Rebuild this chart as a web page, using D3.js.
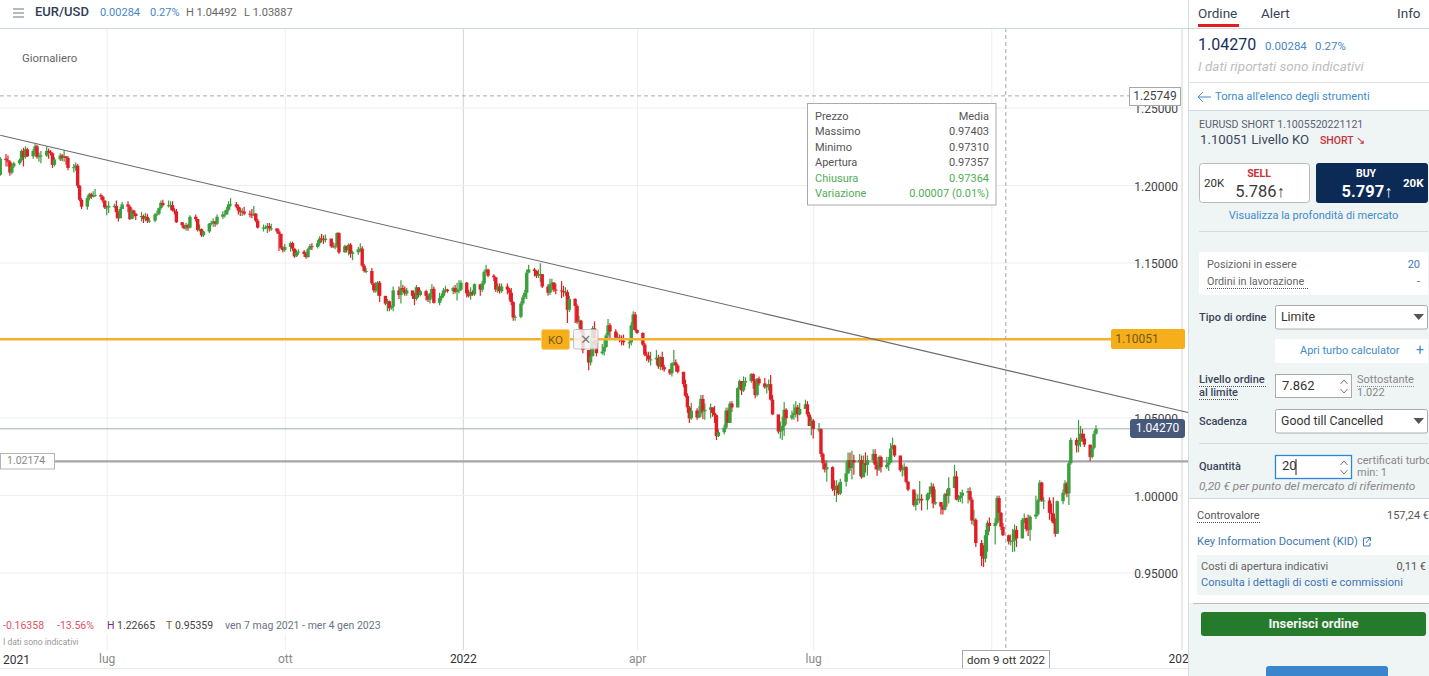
<!DOCTYPE html>
<html><head><meta charset="utf-8">
<script src="https://cdn.jsdelivr.net/npm/d3@7"></script>
<style>
html,body{margin:0;padding:0;background:#fff;overflow:hidden}
svg{display:block;font-family:Roboto,sans-serif}
</style></head><body><div id="chart"></div>
<script>
const firstOpen = 1.2065;
const closes = [1.217,
1.216,1.215,1.208,1.212,1.214,
1.216,1.222,1.218,1.223,1.2185,
1.222,1.225,1.218,1.219,1.219,
1.222,1.2215,1.2205,1.213,1.2165,
1.219,1.2175,1.2185,1.2175,1.211,
1.2115,1.2125,1.1995,1.1905,1.186,
1.1915,1.194,1.1925,1.193,1.1935,
1.1925,1.19,1.1855,1.1855,1.1865,
1.1865,1.1825,1.1785,1.1845,1.1875,
1.186,1.178,1.1835,1.1815,1.18,
1.18,1.178,1.1795,1.177,1.177,
1.181,1.1815,1.185,1.1885,1.187,
1.187,1.187,1.1835,1.183,1.176,
1.174,1.172,1.174,1.1725,1.1795,
1.178,1.171,1.1715,1.1675,1.17,
1.175,1.1755,1.1765,1.175,1.1795,
1.181,1.181,1.184,1.1875,1.1875,
1.186,1.1835,1.1825,1.183,1.1815,
1.181,1.1805,1.1815,1.177,1.1725,
1.1725,1.1725,1.1735,1.172,1.172,
1.17,1.1685,1.1595,1.158,1.16,
1.1625,1.159,1.154,1.1565,1.157,
1.1555,1.1535,1.1585,1.1605,1.16,
1.1625,1.1655,1.165,1.1645,1.1655,
1.1605,1.16,1.1605,1.169,1.1565,
1.1605,1.158,1.1615,1.1555,1.1565,
1.1585,1.159,1.148,1.1445,1.1445,
1.1365,1.132,1.132,1.137,1.1285,
1.1235,1.125,1.1205,1.1215,1.132,
1.129,1.1335,1.1325,1.13,1.132,
1.1285,1.1265,1.134,1.129,1.1315,
1.1285,1.126,1.13,1.133,1.124,
1.127,1.1285,1.132,1.1325,1.1315,
1.1335,1.131,1.1325,1.1325,1.137,
1.13,1.1285,1.131,1.1295,1.136,
1.1325,1.1365,1.144,1.1455,1.1415,
1.1405,1.1325,1.1345,1.1315,1.1345,
1.1325,1.1305,1.1245,1.1145,1.115,
1.1235,1.1275,1.1305,1.1435,1.1455,
1.1445,1.1415,1.1425,1.1425,1.1345,
1.1305,1.136,1.137,1.1325,1.132,
1.1315,1.131,1.131,1.1195,1.1265,
1.122,1.1115,1.1125,1.1065,1.0935,
1.0855,1.0895,1.1075,1.098,1.0915,
1.0925,1.0955,1.103,1.1095,1.1055,
1.1015,1.1015,1.1005,1.0995,1.0985,
1.0985,1.1095,1.1165,1.1065,1.1045,
1.097,1.0905,1.09,1.0875,1.0875,
1.0885,1.083,1.089,1.0825,1.081,
1.0785,1.085,1.0855,1.0835,1.0795,
1.0715,1.064,1.0565,1.0495,1.0545,
1.05,1.0525,1.062,1.054,1.055,
1.0565,1.053,1.0515,1.038,1.0405,
1.0435,1.0545,1.0465,1.059,1.0565,
1.069,1.0735,1.0675,1.0725,1.0735,
1.078,1.0735,1.0645,1.075,1.072,
1.0695,1.0705,1.0715,1.0615,1.052,
1.041,1.0415,1.0445,1.055,1.0495,
1.0515,1.053,1.0565,1.052,1.0555,
1.0585,1.052,1.0445,1.048,1.0425,
1.0425,1.0265,1.0205,1.0165,1.018,
1.004,1.0035,1.006,1.001,1.0085,
1.014,1.0225,1.0175,1.0225,1.021,
1.0225,1.0115,1.0205,1.0195,1.0225,
1.0265,1.0195,1.0165,1.0245,1.018,
1.0195,1.021,1.03,1.032,1.0255,
1.016,1.017,1.018,1.0085,1.0035,
.9935,.9965,.9975,.9975,.9965,
1.0005,1.0015,1.0055,.9945,.9955,
.9925,.9905,1.0005,.9995,1.0045,
1.012,.997,.998,.9995,1.0015,
1.0025,.997,.9835,.984,.969,
.9605,.959,.974,.982,.98,
.982,.998,.9885,.9795,.974,
.97,.9705,.9705,.9775,.972,
.984,.985,.978,.9775,.986,
.9875,.9965,1.008,.9965,.9965,
.9885,.988,.982,.975,.996,
1.0015,1.0075,1.001,1.0205,1.0355,
1.032,1.0345,1.0395,1.0365,1.0325,
1.0245,1.0305,1.0395,1.0427];
const highs = [1.218,
1.22,1.219,1.216,1.214,1.215,
1.217,1.223,1.224,1.225,1.224,
1.223,1.2265,1.226,1.221,1.222,
1.225,1.2235,1.2225,1.221,1.218,
1.2205,1.22,1.2225,1.2185,1.2185,
1.2135,1.2145,1.2135,1.2,1.1915,
1.193,1.195,1.195,1.196,1.1975,
1.1945,1.193,1.19,1.187,1.1895,
1.188,1.19,1.183,1.186,1.189,
1.1895,1.187,1.185,1.184,1.182,
1.1825,1.181,1.182,1.1815,1.1785,
1.182,1.1835,1.1855,1.19,1.1905,
1.19,1.1895,1.1895,1.185,1.1845,
1.176,1.1745,1.1755,1.175,1.1805,
1.181,1.178,1.1745,1.172,1.1705,
1.1755,1.177,1.1785,1.177,1.181,
1.183,1.1835,1.186,1.1895,1.1915,
1.189,1.1875,1.1855,1.185,1.186,
1.1835,1.1845,1.1865,1.182,1.178,
1.1745,1.174,1.1755,1.1755,1.175,
1.172,1.1715,1.1685,1.1605,1.162,
1.1635,1.1635,1.159,1.158,1.1585,
1.158,1.1565,1.1595,1.162,1.1625,
1.1645,1.167,1.1685,1.1675,1.168,
1.1625,1.163,1.1625,1.1695,1.1695,
1.1615,1.161,1.1625,1.1625,1.1575,
1.16,1.1625,1.1605,1.149,1.1465,
1.1465,1.137,1.1375,1.138,1.138,
1.1275,1.1265,1.1255,1.1225,1.1345,
1.1345,1.1385,1.1355,1.1345,1.1335,
1.1315,1.1305,1.1355,1.134,1.1325,
1.1325,1.1295,1.1305,1.136,1.1345,
1.1305,1.13,1.1335,1.135,1.133,
1.1345,1.1355,1.137,1.1385,1.1385,
1.1375,1.1325,1.134,1.132,1.1365,
1.135,1.138,1.145,1.1485,1.146,
1.1425,1.1405,1.1365,1.1365,1.1365,
1.1365,1.1335,1.1335,1.125,1.116,
1.125,1.129,1.1325,1.1455,1.1485,
1.1465,1.145,1.1455,1.1495,1.1425,
1.136,1.1395,1.1395,1.1375,1.1365,
1.138,1.135,1.134,1.1325,1.1285,
1.127,1.123,1.1155,1.113,1.107,
1.0935,1.1015,1.109,1.112,1.1,
1.0975,1.1005,1.1045,1.1135,1.111,
1.107,1.1045,1.1035,1.103,1.1035,
1.1,1.1115,1.1185,1.118,1.107,
1.105,1.098,1.0925,1.0925,1.0925,
1.0935,1.0905,1.0895,1.0925,1.084,
1.0815,1.0855,1.0935,1.0875,1.0845,
1.0795,1.0745,1.0655,1.0575,1.0595,
1.056,1.0575,1.0645,1.0645,1.059,
1.059,1.0565,1.0575,1.052,1.0425,
1.0455,1.0565,1.0565,1.0605,1.0605,
1.0695,1.0745,1.0735,1.0765,1.076,
1.0785,1.0785,1.0745,1.0755,1.0765,
1.0755,1.0715,1.0745,1.0775,1.0645,
1.0515,1.0475,1.0505,1.06,1.056,
1.0545,1.0585,1.0605,1.058,1.0595,
1.0615,1.0605,1.0535,1.0505,1.049,
1.0465,1.043,1.0275,1.0225,1.0225,
1.0185,1.0095,1.0095,1.0075,1.0105,
1.0215,1.0275,1.0275,1.0285,1.026,
1.0265,1.0255,1.0255,1.0275,1.0255,
1.0295,1.0295,1.0215,1.0255,1.0255,
1.0245,1.0245,1.0335,1.037,1.0325,
1.025,1.0195,1.0205,1.0185,1.009,
1.0035,1.0015,1.0005,1.009,1.0005,
1.0015,1.0055,1.008,1.0075,1.0035,
.9955,.9935,1.0015,1.0035,1.0115,
1.0195,1.0155,1,1.002,1.0035,
1.0045,1.005,.9985,.9905,.985,
.971,.9675,.9775,.9835,.9855,
.985,.9995,.9995,.989,.982,
.9745,.9745,.978,.981,.98,
.985,.988,.9855,.9875,.987,
.9995,.9975,1.0095,1.0085,.9985,
.9985,.9945,.9985,.985,.9965,
1.0035,1.0095,1.0085,1.022,1.037,
1.037,1.0485,1.0445,1.0425,1.0395,
1.0325,1.0315,1.0415,1.04492];
const lows = [1.206,
1.212,1.212,1.206,1.207,1.211,
1.213,1.215,1.212,1.217,1.218,
1.217,1.219,1.217,1.215,1.214,
1.218,1.217,1.219,1.211,1.212,
1.2155,1.2155,1.215,1.213,1.2095,
1.208,1.209,1.198,1.1895,1.1845,
1.184,1.19,1.191,1.192,1.1925,
1.1905,1.1885,1.1845,1.1805,1.182,
1.185,1.1785,1.1765,1.183,1.185,
1.1825,1.1775,1.178,1.179,1.1775,
1.1765,1.1755,1.1765,1.1755,1.1755,
1.176,1.18,1.1805,1.184,1.186,
1.1855,1.184,1.183,1.181,1.1755,
1.1725,1.1715,1.1705,1.1705,1.172,
1.1765,1.17,1.17,1.1665,1.1665,
1.169,1.174,1.173,1.173,1.174,
1.178,1.179,1.181,1.183,1.186,
1.185,1.181,1.18,1.18,1.1805,
1.179,1.1785,1.18,1.176,1.172,
1.17,1.1715,1.169,1.17,1.1705,
1.1685,1.1575,1.1585,1.1565,1.157,
1.157,1.1575,1.153,1.1535,1.155,
1.1535,1.1525,1.153,1.158,1.158,
1.159,1.161,1.163,1.162,1.163,
1.1595,1.1595,1.1585,1.1595,1.1555,
1.1565,1.1565,1.1545,1.153,1.1515,
1.155,1.157,1.147,1.1435,1.143,
1.1355,1.1305,1.1305,1.1285,1.1245,
1.1225,1.1185,1.1185,1.1195,1.1185,
1.1265,1.1235,1.131,1.1285,1.1285,
1.1265,1.1225,1.1255,1.1275,1.128,
1.1255,1.1245,1.1235,1.1275,1.1235,
1.1225,1.1255,1.1275,1.1305,1.1305,
1.1295,1.13,1.1255,1.13,1.1315,
1.1275,1.1275,1.126,1.1285,1.1285,
1.1285,1.131,1.1355,1.1435,1.1405,
1.138,1.131,1.1305,1.13,1.1305,
1.1295,1.1255,1.1225,1.1125,1.1125,
1.114,1.1225,1.1265,1.1265,1.143,
1.141,1.14,1.14,1.1375,1.1335,
1.1285,1.129,1.1315,1.131,1.1295,
1.127,1.128,1.1285,1.111,1.118,
1.111,1.1105,1.1075,1.1045,1.0915,
1.0805,1.0835,1.0895,1.097,1.0895,
1.0905,1.09,1.095,1.1015,1.1005,
1.1005,1.1,1.0985,1.0965,1.0965,
1.0945,1.0965,1.1065,1.1055,1.104,
1.096,1.0895,1.0865,1.0855,1.0835,
1.084,1.0815,1.0805,1.0805,1.0795,
1.0775,1.0765,1.0835,1.0795,1.0785,
1.0695,1.063,1.053,1.0465,1.0485,
1.0485,1.0495,1.0505,1.049,1.0485,
1.0495,1.0505,1.0465,1.0355,1.0375,
1.039,1.0425,1.0465,1.0465,1.0535,
1.0565,1.068,1.0645,1.0665,1.07,
1.0725,1.0685,1.0625,1.0635,1.0705,
1.0685,1.0655,1.0675,1.061,1.0515,
1.0395,1.0365,1.0355,1.038,1.0455,
1.0485,1.0485,1.05,1.0475,1.0515,
1.056,1.0505,1.0445,1.0385,1.0365,
1.0405,1.0245,1.0165,1.0145,1.0085,
1.0025,.9995,.9955,1,1,
1.0055,1.0135,1.0155,1.01,1.013,
1.0125,1.0105,1.0115,1.0145,1.0125,
1.0205,1.0165,1.0125,1.0155,1.0145,
1.017,1.0155,1.0205,1.0295,1.0245,
1.015,1.012,1.0125,1.0075,1.0025,
.9925,.99,.9935,.9945,.99,
.9905,.9975,.9985,.9915,.9935,
.9875,.9875,.99,.9925,.9945,
1.0055,.9965,.9955,.9955,.9945,
.9945,.996,.981,.98,.9665,
.954,.9535,.9565,.9635,.9765,
.968,.981,.9835,.9775,.9735,
.968,.9675,.9632,.9635,.9665,
.972,.982,.9765,.9735,.9705,
.9845,.9865,.9955,.9955,.991,
.984,.983,.9815,.973,.975,
.994,1,.9985,.9935,1.0195,
1.0275,1.0275,1.031,1.0345,1.031,
1.022,1.0235,1.0295,1.03887];

const firstDay = "2021-05-07", dayAfterLast = "2022-11-25";
const axisStops = ["2021-05-07","2022-10-01","2022-11-24","2023-01-01","2023-01-04"];
const yTickValues = [0.95,1.0,1.05,1.15,1.2,1.25];
const xTickDates = ["2021-07-01","2021-10-01","2022-01-01","2022-04-01","2022-07-01","2022-10-01","2023-01-01"];
const xTickLabels = ["lug","ott","2022","apr","lug","","2023"];
const trendPrices = [1.2321,1.0532];
const koLevel = 1.10051, lastPrice = 1.0427, hLine = 1.25749, userLine = 1.02174;
const crosshairDay = "2022-10-09";
const tooltipRows = [["Prezzo","Media"],["Massimo","0.97403"],["Minimo","0.97310"],["Apertura","0.97357"],["Chiusura","0.97364"],["Variazione","0.00007 (0.01%)"]];

const W=1429,H=676;
const svg=d3.select("#chart").append("svg").attr("width",W).attr("height",H).attr("viewBox",[0,0,W,H]);
const pd=d=>new Date(d+"T00:00:00Z");
const x=d3.scaleUtc().domain(axisStops.map(pd)).range([0.24,991.3,1096,1181.5,1188]);
const y=d3.scaleLinear().domain([0.95,1.25]).range([572.5,107.5]);
const days=d3.utcDay.range(pd(firstDay),pd(dayAfterLast)).filter(d=>d.getUTCDay()>0&&d.getUTCDay()<6);
const bars=days.map((d,i)=>({d,o:i?closes[i-1]:firstOpen,c:closes[i],h:highs[i],l:lows[i]}));
const GREEN="#3a9f3c",RED="#e01e25";

// axes and grid
const gx=svg.append("g").attr("transform","translate(0,650)").call(
  d3.axisBottom(x).tickValues(xTickDates.map(pd)).tickSize(-622).tickPadding(4).tickFormat((d,i)=>xTickLabels[i]));
gx.select(".domain").remove();
gx.selectAll("line").attr("stroke",(d,i)=>xTickLabels[i]==="2022"||xTickLabels[i]==="2023"?"#d4d4d4":"#eeeeee");
gx.selectAll("text").attr("font-size",12).attr("font-family","Roboto").attr("fill",(d,i)=>/^\d/.test(xTickLabels[i])?"#333":"#8a8a8a");
const gy=svg.append("g").attr("transform","translate(1181,0)").call(
  d3.axisLeft(y).tickValues(yTickValues).tickSize(1181).tickPadding(-1178).tickFormat(d3.format(".5f")));
gy.select(".domain").remove();
gy.selectAll("line").attr("stroke","#eeeeee");
gy.selectAll("text").attr("font-size",12).attr("font-family","Roboto").attr("fill","#444").attr("dy","1.3em").attr("dy",".42em");

function T(t,px,py,o={}){return svg.append("text").attr("x",px).attr("y",py+1).text(t)
  .attr("font-size",o.s||11).attr("fill",o.f||"#555").attr("text-anchor",o.a||"start")
  .attr("font-weight",o.w||400).attr("font-style",o.i?"italic":"normal")
  .attr("dominant-baseline","middle").attr("font-family",o.ff||"Roboto")}
function R(a,b,w,h,f,o={}){return svg.append("rect").attr("x",a).attr("y",b).attr("width",w).attr("height",h)
  .attr("fill",f).attr("stroke",o.st||"none").attr("stroke-width",o.sw||1).attr("rx",o.r||0).attr("opacity",o.op==null?1:o.op)}
function L(a,b,c,d,s,o={}){return svg.append("line").attr("x1",a).attr("y1",b).attr("x2",c).attr("y2",d)
  .attr("stroke",s).attr("stroke-width",o.w||1).attr("stroke-dasharray",o.da||null)}

T("2021",3,659.5,{s:12,f:"#333"});
R(0,618,386,16,"#fff");
T("Giornaliero",22,57.5,{s:11.4,f:"#666"});

// horizontal level lines
L(0,y(hLine),1130,y(hLine),"#a9a9a9",{da:"4 3"});
L(0,y(lastPrice),1132,y(lastPrice),"#a4acbc",{w:1});
L(0,y(userLine),1188,y(userLine),"#a6a6a6",{w:2.2});

// candles
const cg=svg.append("g");
cg.selectAll("line").data(bars).join("line")
  .attr("x1",b=>x(b.d)).attr("x2",b=>x(b.d)).attr("y1",b=>y(b.h)).attr("y2",b=>y(b.l))
  .attr("stroke",b=>b.c>=b.o?GREEN:RED).attr("stroke-width",1.2);
cg.selectAll("rect").data(bars).join("rect")
  .attr("x",b=>x(b.d)-1.7).attr("width",3.4)
  .attr("y",b=>y(Math.max(b.o,b.c))).attr("height",b=>Math.max(1,Math.abs(y(b.o)-y(b.c))))
  .attr("fill",b=>b.c>=b.o?GREEN:RED);

// KO level
L(0,y(koLevel),1112,y(koLevel),"#f5b02e",{w:2.4});
// trend line
L(x(pd(axisStops[0])),y(trendPrices[0]),x(pd(axisStops[4])),y(trendPrices[1]),"#6a6a6a",{w:1.1});
// crosshair
L(x(pd(crosshairDay))-1,28,x(pd(crosshairDay))-1,650,"#a6a6a6",{da:"4 3"});

// KO controls
R(541.5,329.5,28,20,"#f7ae1b",{r:2,st:"#fbd27e"});
T("KO",555.5,339.5,{a:"middle",s:11.5,f:"#7a5a12"});
R(573.5,329.5,24.5,19.5,"#f4f4f4",{r:2,st:"#b9b9c4",op:.85});
T("✕",585.7,339.5,{a:"middle",s:13,f:"#777",ff:"DejaVu Sans"});

// bottom stats
T("-0.16358",3,625,{s:10.5,f:"#d9555f"});
T("-13.56%",57,625,{s:10.5,f:"#d9555f"});
T("H",107,625,{s:10.5,f:"#7a2a8a"});
T("1.22665",117,625,{s:10.5,f:"#444"});
T("T",166,625,{s:10.5,f:"#8a5a10"});
T("0.95359",175,625,{s:10.5,f:"#444"});
T("ven 7 mag 2021 - mer 4 gen 2023",225,625,{s:10.5,f:"#6a7286"});
T("I dati sono indicativi",3,642,{s:8.5,f:"#999"});

// price labels
R(1129.5,87.5,51,18,"#fff",{st:"#a8a8a8"});
T("1.25749",1155,95.5,{a:"middle",s:12,f:"#444"});
R(1111,329,74,20,"#f7ae1b",{r:2});
T("1.10051",1137,338.5,{a:"middle",s:12,f:"#6e5a1c"});
R(1130,419,55,19,"#47597a",{r:3});
T("1.04270",1157.5,428,{a:"middle",s:12,f:"#fff"});
R(0.5,453.5,54,15.5,"#fff",{st:"#b5b5b5"});
T("1.02174",7,460.5,{s:10.5,f:"#8a8a8a"});
R(962.5,650.5,87,18,"#fff",{st:"#a8a8b0"});
T("dom 9 ott 2022",1006,659.5,{a:"middle",s:11.5,f:"#333"});

// tooltip
R(807.5,103.5,188.5,101.5,"#fff",{st:"#aaa"});
tooltipRows.forEach((r,i)=>{const c=i>=4?"#4fae55":"#555",py=116+i*15.4;
  T(r[0],815,py,{s:11,f:c});T(r[1],989,py,{s:11,f:c,a:"end"});});

// header
[9,13,17].forEach(p=>L(13,p,24,p,"#6b7282",{w:1}));
T("EUR/USD",35,12,{s:13,f:"#2f3d55",w:500});
T("0.00284",100,12.5,{s:11,f:"#4a86c5"});
T("0.27%",150,12.5,{s:11,f:"#4a86c5"});
T("H 1.04492",186,12.5,{s:11,f:"#666"});
T("L 1.03887",244,12.5,{s:11,f:"#666"});
L(0,28.5,1188,28.5,"#cfd8dc");
L(0,668.5,1188,668.5,"#e3e9ec");

// side panel
const BG="#eff4f5",BLUE="#3f8ccb",DARK="#3b4658";
R(1188,0,241,676,"#fff");
L(1188.5,0,1188.5,676,"#d5dde0");
L(1189,28.5,1429,28.5,"#cfd8dc");
T("Ordine",1198,13,{s:13.5,f:"#3a4354"});
T("Alert",1261,13,{s:13.5,f:"#3a4354"});
T("Info",1397,13,{s:13.5,f:"#3a4354"});
R(1198,24,41,3,"#e01e25");
T("1.04270",1198,45,{s:16,f:"#16305c"});
T("0.00284",1265,46,{s:11.5,f:"#4a86c5"});
T("0.27%",1315,46,{s:11.5,f:"#4a86c5"});
T("I dati riportati sono indicativi",1198,66.5,{s:13.5,f:"#bdbdbd",i:1});
L(1189,82.5,1429,82.5,"#dde2e4");
L(1198,97,1211,97,BLUE);
svg.append("path").attr("d","M1203,92 L1198,97 L1203,102").attr("fill","none").attr("stroke",BLUE);
T("Torna all'elenco degli strumenti",1215,96.5,{s:11.2,f:BLUE});
R(1189,110,240,388,BG);
L(1189,110.5,1429,110.5,"#cfd8dc");
T("EURUSD SHORT 1.1005520221121",1199,124.5,{s:10.6,f:"#5a6270"});
T("1.10051 Livello KO",1200,139.5,{s:13.2,f:DARK});
T("SHORT ↘",1320,140,{s:10.5,f:"#c8323a",w:500});
R(1199.5,163.5,110,39,"#fff",{r:3,st:"#bbb"});
T("20K",1204,183,{s:11.5,f:"#333"});
T("SELL",1259,173,{s:10.5,f:"#c8323a",a:"middle",w:700});
T("5.786↑",1260,191.5,{s:16.5,f:"#3a3a3a",a:"middle"});
R(1316,163,112,40,"#0b2a55",{r:3});
T("BUY",1366,173,{s:10.5,f:"#fff",a:"middle",w:700});
T("5.797↑",1367,191.5,{s:16.5,f:"#fff",a:"middle",w:700});
T("20K",1403,183,{s:11.5,f:"#fff",w:700});
T("Visualizza la profondità di mercato",1313.5,215,{s:11,f:BLUE,a:"middle"});
L(1199,231.5,1428,231.5,"#d5d9db");
R(1199,252,229,43,"#fff",{r:2});
T("Posizioni in essere",1207,264.5,{s:10.8,f:"#666"});
T("20",1420,264.5,{s:11,f:"#3d78b5",a:"end"});
T("Ordini in lavorazione",1207,281.5,{s:10.8,f:"#666"});
L(1207,288.5,1308,288.5,"#555",{da:"1 1"});
T("-",1420,281.5,{s:11,f:"#666",a:"end"});
function sel(b,t){R(1275.5,b+.5,152,23.5,"#fff",{r:2,st:"#aaa"});T(t,1281,b+12,{s:12.3,f:"#333"});
  svg.append("path").attr("d",`M1413.5,${b+9} L1424,${b+9} L1418.7,${b+15} Z`).attr("fill","#555");}
T("Tipo di ordine",1199,317.5,{s:11,f:DARK,w:500});
sel(305,"Limite");
R(1275,339,153,24,"#fff",{r:2});
T("Apri turbo calculator",1300,350.5,{s:11,f:BLUE});
T("+",1420,350.5,{s:14,f:BLUE,a:"middle"});
T("Livello ordine",1199,379.5,{s:11,f:DARK,w:500});
L(1199,386.5,1266,386.5,"#555",{da:"1 1"});
T("al limite",1199,392.5,{s:11,f:DARK,w:500});
L(1199,399.5,1238,399.5,"#555",{da:"1 1"});
function spin(b){[[b+8,-1],[b+17,1]].forEach(([p,s])=>svg.append("path")
  .attr("d",`M1340.5,${p-s*2} L1344,${p+s*2} L1347.5,${p-s*2}`).attr("fill","none").attr("stroke","#777"));}
R(1275.5,374.5,76,23,"#fff",{st:"#aaa"});
T("7.862",1282,385.5,{s:13,f:"#333"});spin(374);
T("Sottostante",1357,379.5,{s:11,f:"#888"});
L(1357,386.5,1415,386.5,"#888",{da:"1 1"});
T("1.022",1357,392.5,{s:11,f:"#888"});
T("Scadenza",1199,421.5,{s:11,f:DARK,w:500});
sel(409,"Good till Cancelled");
L(1199,443.5,1428,443.5,"#d5d9db");
T("Quantità",1199,466.5,{s:11,f:DARK,w:500});
R(1275.5,455.5,76,23,"#fff",{st:"#2b88d8",sw:1.3});
T("20",1282,466,{s:13,f:"#333"});
L(1296,459,1296,475,"#222");spin(455);
T("certificati turbo",1357,460.5,{s:11,f:"#888"});
T("min: 1",1357,472.5,{s:11,f:"#888"});
T("0,20 € per punto del mercato di riferimento",1199,485.5,{s:11.8,f:"#888",i:1});
L(1189,498.5,1429,498.5,"#cfd8dc");
T("Controvalore",1197,515.5,{s:11,f:"#555"});
L(1197,522.5,1261,522.5,"#555",{da:"1 1"});
T("157,24 €",1429,515.5,{s:11,f:"#555",a:"end"});
T("Key Information Document (KID)",1197,541.5,{s:11.2,f:"#3d78b5"});
svg.append("path").attr("d","M1367,538 H1363.5 V546 H1370 V543 M1366,543 L1370,538 M1367,537.5 H1370.5 V541").attr("fill","none").attr("stroke","#3d78b5");
R(1197,555,232,40,BG);
T("Costi di apertura indicativi",1201,566.5,{s:11,f:"#666"});
T("0,11 €",1426,566.5,{s:11,f:"#555",a:"end"});
T("Consulta i dettagli di costi e commissioni",1201,582.5,{s:11.05,f:"#3d78b5"});
R(1189,603,240,73,BG);
L(1193,603.5,1429,603.5,"#b9bec1");
R(1201,612,225,24,"#267a2b",{r:3});
T("Inserisci ordine",1313.5,623.5,{s:13,f:"#f2f2f2",a:"middle",w:700});
R(1266,666,122,14,"#3a85cc",{r:3});
</script></body></html>
